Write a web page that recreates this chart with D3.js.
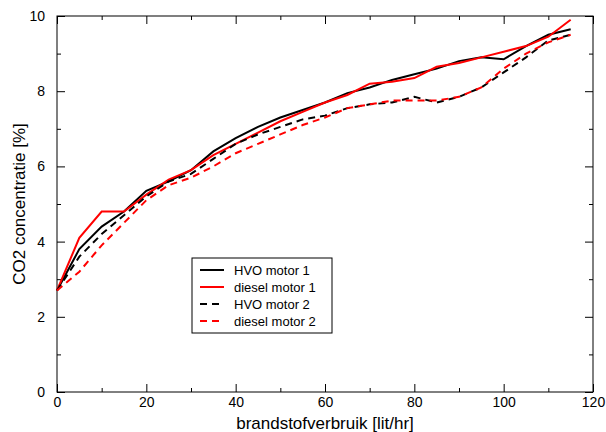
<!DOCTYPE html><html><head><script src="https://cdn.jsdelivr.net/npm/d3@7"></script>
<style>body{margin:0;background:#fff}text{font-family:"Liberation Sans",Arial,sans-serif}</style></head><body><svg id="c" width="606" height="432"></svg><script>
const xs=[0,5,10,15,20,25,30,35,40,45,50,55,60,65,70,75,80,85,90,95,100,105,110,115];
const hvo1=[2.7,3.8,4.4,4.8,5.35,5.6,5.9,6.4,6.75,7.05,7.3,7.5,7.7,7.95,8.1,8.3,8.45,8.6,8.8,8.9,8.85,9.2,9.5,9.65];
const dies1=[2.7,4.1,4.8,4.8,5.25,5.65,5.9,6.3,6.6,6.9,7.2,7.45,7.7,7.9,8.2,8.25,8.35,8.65,8.75,8.9,9.05,9.2,9.45,9.9];
const hvo2=[2.7,3.6,4.2,4.7,5.2,5.6,5.8,6.2,6.6,6.85,7.05,7.25,7.35,7.55,7.65,7.7,7.85,7.7,7.85,8.1,8.5,8.9,9.35,9.5];
const dies2=[2.7,3.2,3.9,4.5,5.1,5.5,5.7,6.0,6.35,6.6,6.85,7.1,7.3,7.55,7.65,7.75,7.75,7.75,7.85,8.1,8.6,9.0,9.3,9.5];
const series=[{n:"HVO motor 1",v:hvo1,c:"#000",d:null},{n:"diesel motor 1",v:dies1,c:"#f00",d:null},{n:"HVO motor 2",v:hvo2,c:"#000",d:"7,5"},{n:"diesel motor 2",v:dies2,c:"#f00",d:"7,5"}];
const svg=d3.select("#c"),L=57,R=593,T=16,B=392;
const x=d3.scaleLinear([0,120],[L,R]),y=d3.scaleLinear([0,10],[B,T]);
const g=svg.append("g");
function ax(gen,tr){const a=g.append("g").attr("transform",tr).call(gen);a.select(".domain").remove();a.selectAll("text").attr("font-size",14).attr("fill","#000");return a;}
ax(d3.axisBottom(x).tickValues(d3.range(0,121,20)).tickSize(-8).tickPadding(5),`translate(0,${B})`);
ax(d3.axisBottom(x).tickValues(d3.range(10,121,20)).tickSize(-4).tickFormat(""),`translate(0,${B})`);
ax(d3.axisTop(x).tickValues(d3.range(0,121,20)).tickSize(-8).tickFormat(""),`translate(0,${T})`);
ax(d3.axisTop(x).tickValues(d3.range(10,121,20)).tickSize(-4).tickFormat(""),`translate(0,${T})`);
ax(d3.axisLeft(y).tickValues(d3.range(0,11,2)).tickSize(-8).tickPadding(12),`translate(${L},0)`);
ax(d3.axisLeft(y).tickValues(d3.range(1,10,2)).tickSize(-4).tickFormat(""),`translate(${L},0)`);
ax(d3.axisRight(y).tickValues(d3.range(0,11,2)).tickSize(-8).tickFormat(""),`translate(${R},0)`);
ax(d3.axisRight(y).tickValues(d3.range(1,10,2)).tickSize(-4).tickFormat(""),`translate(${R},0)`);
g.selectAll(".tick line").attr("stroke","#000");
svg.append("rect").attr("x",L).attr("y",T).attr("width",R-L).attr("height",B-T).attr("fill","none").attr("stroke","#000");
const line=d3.line().x((d,i)=>x(xs[i])).y(d=>y(d));
series.forEach(s=>svg.append("path").attr("d",line(s.v)).attr("fill","none").attr("stroke",s.c).attr("stroke-width",2).attr("stroke-dasharray",s.d));
const lg=svg.append("g").attr("transform","translate(192,258)");
lg.append("rect").attr("width",140).attr("height",75).attr("fill","#fff").attr("stroke","#000");
series.forEach((s,i)=>{const yy=12+i*17;lg.append("line").attr("x1",8).attr("x2",32).attr("y1",yy).attr("y2",yy).attr("stroke",s.c).attr("stroke-width",2).attr("stroke-dasharray",s.d);
lg.append("text").attr("x",42).attr("y",yy+5).attr("font-size",13).text(s.n);});
svg.append("text").attr("x",(L+R)/2).attr("y",429).attr("text-anchor","middle").attr("font-size",17).text("brandstofverbruik [lit/hr]");
svg.append("text").attr("transform",`translate(25,${(T+B)/2}) rotate(-90)`).attr("text-anchor","middle").attr("font-size",17).text("CO2 concentratie [%]");
</script></body></html>
